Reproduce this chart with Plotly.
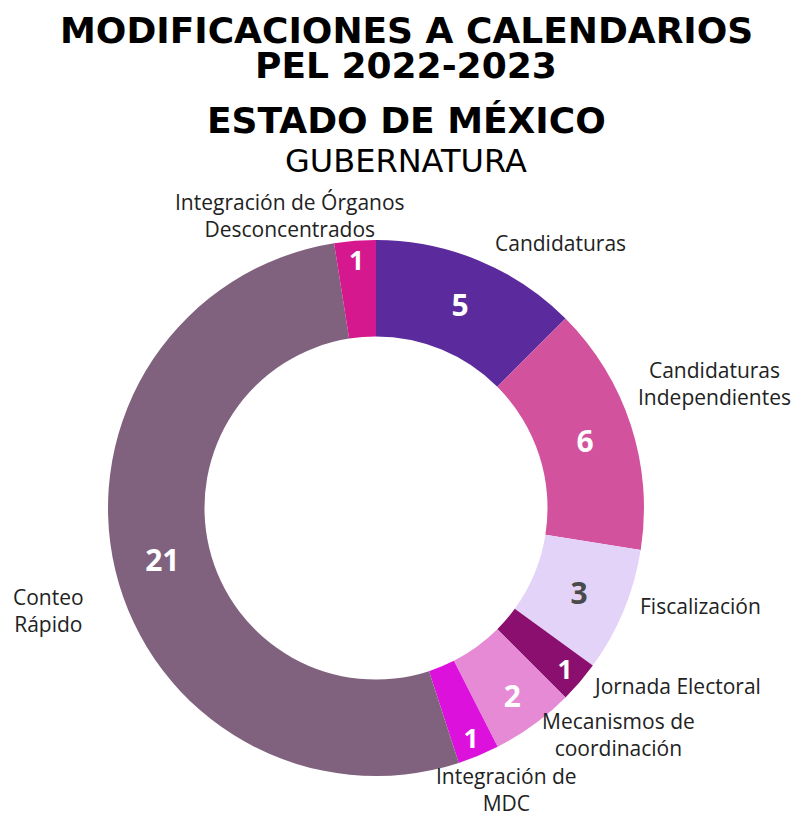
import plotly.graph_objects as go

categories = [
    "Candidaturas",
    "Candidaturas Independientes",
    "Fiscalización",
    "Jornada Electoral",
    "Mecanismos de coordinación",
    "Integración de MDC",
    "Conteo Rápido",
    "Integración de Órganos Desconcentrados",
]
values = [5, 6, 3, 1, 2, 1, 21, 1]
colors = [
    "#5b2a9d",
    "#d3529e",
    "#e3d3f8",
    "#8a0f6e",
    "#e68ad6",
    "#dc12dc",
    "#80627f",
    "#d6188f",
]
value_colors = ["white", "white", "#4a4a4a", "white", "white", "white", "white", "white"]

# outside label text (line broken as in the source graphic)
label_texts = [
    "Candidaturas",
    "Candidaturas<br>Independientes",
    "Fiscalización",
    "Jornada Electoral",
    "Mecanismos de<br>coordinación",
    "Integración de<br>MDC",
    "Conteo<br>Rápido",
    "Integración de Órganos<br>Desconcentrados",
]
# label anchor points in page pixels (x, y from top)
label_pos = [
    (560, 243),
    (714, 383),
    (700, 606),
    (677, 686),
    (618, 734),
    (506, 789),
    (48, 610),
    (290, 216),
]

W, H = 805, 817
OFF = 8  # body margin of the html page
cx, cy, r = 376 - OFF, 508 - OFF, 268

fig = go.Figure(
    go.Pie(
        labels=categories,
        values=values,
        sort=False,
        direction="clockwise",
        rotation=0,
        hole=0.64,
        marker=dict(colors=colors, line=dict(width=0)),
        textinfo="value",
        textposition="inside",
        insidetextorientation="horizontal",
        textfont=dict(family="Open Sans", size=30, color=value_colors, weight="bold"),
        domain=dict(
            x=[(cx - r) / W, (cx + r) / W],
            y=[(H - cy - r) / H, (H - cy + r) / H],
        ),
        showlegend=False,
    )
)

for txt, (px_, py_) in zip(label_texts, label_pos):
    fig.add_annotation(
        x=(px_ - OFF) / W,
        y=1 - (py_ - OFF) / H,
        xref="paper",
        yref="paper",
        text=txt,
        showarrow=False,
        xanchor="center",
        yanchor="middle",
        align="center",
        font=dict(family="Open Sans", size=21, color="#222222"),
    )

titles = [
    ("MODIFICACIONES A CALENDARIOS", 30, 36, "bold"),
    ("PEL 2022-2023", 66, 36, "bold"),
    ("ESTADO DE MÉXICO", 120, 36, "bold"),
    ("GUBERNATURA", 161, 32, "normal"),
]
for txt, ty, size, weight in titles:
    fig.add_annotation(
        x=(406 - OFF) / W,
        y=1 - (ty - OFF) / H,
        xref="paper",
        yref="paper",
        text=txt,
        showarrow=False,
        xanchor="center",
        yanchor="middle",
        font=dict(family="DejaVu Sans", size=size, color="black", weight=weight),
    )

fig.update_layout(
    width=W,
    height=H,
    margin=dict(l=0, r=0, t=0, b=0),
    paper_bgcolor="white",
    plot_bgcolor="white",
)

fig.write_html("out.html")
